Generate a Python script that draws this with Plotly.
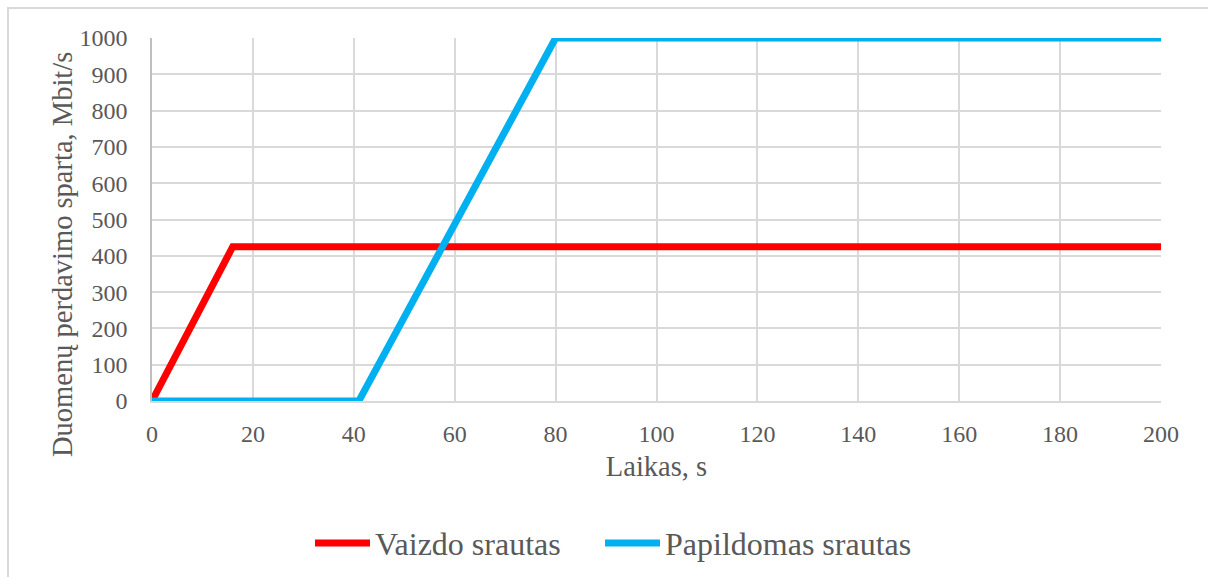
import plotly.graph_objects as go

# Data
red_x = [0, 16, 200]
red_y = [0, 425, 425]
blue_x = [0, 41, 80, 200]
blue_y = [0, 0, 1000, 1000]
series_names = ["Vaizdo srautas", "Papildomas srautas"]
series_colors = ["#ff0000", "#00b0f0"]
x_ticks = list(range(0, 201, 20))
y_ticks = list(range(0, 1001, 100))
x_title = "Laikas, s"
y_title = "Duomenų perdavimo sparta, Mbit/s"

FONT = "'Times New Roman', 'Liberation Serif', Times, serif"
TXT = "#595959"

fig = go.Figure()
fig.add_trace(go.Scatter(x=red_x, y=red_y, mode="lines", name=series_names[0],
                         line=dict(color=series_colors[0], width=7), showlegend=False))
fig.add_trace(go.Scatter(x=blue_x, y=blue_y, mode="lines", name=series_names[1],
                         line=dict(color=series_colors[1], width=7), showlegend=False))

W, H = 1208, 577
L, R, T, B = 152, 47, 38, 176
pw, ph = W - L - R, H - T - B

def px2x(px):
    return (px - L) / pw

def py2y(py):
    return (H - B - py) / ph

shapes = [dict(type="rect", xref="paper", yref="paper",
               x0=px2x(8), x1=px2x(1220), y0=py2y(590), y1=py2y(8),
               line=dict(color="#d9d9d9", width=2), fillcolor="rgba(0,0,0,0)", layer="below")]
annotations = [dict(xref="paper", yref="paper", x=px2x(63), y=py2y(255),
                    xanchor="center", yanchor="middle", showarrow=False, text=y_title,
                    textangle=-90, font=dict(family=FONT, size=28.5, color=TXT))]
# custom legend (sample line 60px, text right after)
leg_y = 543
leg_starts = [313, 603]
for name, col, x0 in zip(series_names, series_colors, leg_starts):
    shapes.append(dict(type="line", xref="paper", yref="paper",
                       x0=px2x(x0 + 2), x1=px2x(x0 + 57), y0=py2y(leg_y), y1=py2y(leg_y),
                       line=dict(color=col, width=7)))
    annotations.append(dict(xref="paper", yref="paper", x=px2x(x0 + 60), y=py2y(leg_y + 1),
                            xanchor="left", yanchor="middle", showarrow=False, text=name,
                            font=dict(family=FONT, size=32, color=TXT)))

fig.update_layout(
    width=W, height=H,
    margin=dict(l=L, r=R, t=T, b=B, pad=0),
    paper_bgcolor="white", plot_bgcolor="white",
    font=dict(family=FONT, color=TXT, size=24),
    showlegend=False,
    xaxis=dict(range=[0, 200], tickvals=x_ticks, showgrid=True, gridcolor="#d9d9d9",
               gridwidth=1.5, zeroline=False, showline=True, linecolor="#d9d9d9", linewidth=1.5,
               ticks="", ticklabelstandoff=10, tickfont=dict(family=FONT, size=24, color=TXT),
               title=dict(text=x_title, font=dict(family=FONT, size=28.5, color=TXT), standoff=11)),
    yaxis=dict(range=[0, 1000], tickvals=y_ticks, showgrid=True, gridcolor="#d9d9d9",
               gridwidth=1.5, zeroline=False, showline=True, linecolor="#bfbfbf", linewidth=1.5,
               ticks="", ticklabelstandoff=18, tickfont=dict(family=FONT, size=24, color=TXT)),
    shapes=shapes,
    annotations=annotations,
)

fig.write_html("out.html")
